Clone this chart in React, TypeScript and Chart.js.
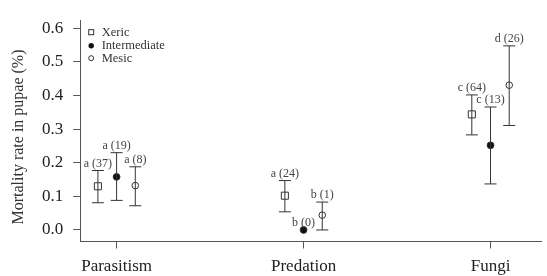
import React, { useEffect, useRef } from "react";
import { Chart, registerables } from "chart.js";

Chart.register(...registerables);

const categories = ["Parasitism", "Predation", "Fungi"];
const seriesNames = ["Xeric", "Intermediate", "Mesic"];

const xericMean = [0.130, 0.102, 0.344];
const xericLow = [0.081, 0.054, 0.283];
const xericHigh = [0.177, 0.147, 0.402];

const interMean = [0.158, 0.0, 0.252];
const interLow = [0.088, 0.0, 0.137];
const interHigh = [0.230, 0.0, 0.366];

const mesicMean = [0.132, 0.044, 0.431];
const mesicLow = [0.072, 0.0, 0.311];
const mesicHigh = [0.188, 0.083, 0.548];

const xericLetters = ["a", "a", "c"];
const interLetters = ["a", "b", "c"];
const mesicLetters = ["a", "b", "d"];

const xericCounts = [37, 24, 64];
const interCounts = [19, 0, 13];
const mesicCounts = [8, 1, 26];

const yTicks = [0, 0.1, 0.2, 0.3, 0.4, 0.5, 0.6];
const yTitle = "Mortality rate in pupae (%)";

const means = [xericMean, interMean, mesicMean];
const lows = [xericLow, interLow, mesicLow];
const highs = [xericHigh, interHigh, mesicHigh];
const letters = [xericLetters, interLetters, mesicLetters];
const counts = [xericCounts, interCounts, mesicCounts];

const OFFSETS = [-0.1, 0, 0.1];
const SERIF = "'Liberation Serif', 'Times New Roman', serif";
const INK = "#333";

const errorBarPlugin = {
  id: "errorBars",
  afterDatasetsDraw(chart: any) {
    const ctx = chart.ctx;
    const xs = chart.scales.x;
    const ys = chart.scales.y;
    ctx.save();
    ctx.strokeStyle = INK;
    ctx.lineWidth = 1;
    ctx.fillStyle = "#444";
    ctx.font = `12px ${SERIF}`;
    ctx.textAlign = "center";
    ctx.textBaseline = "middle";
    const cap = 6;
    for (let i = 0; i < means.length; i++) {
      for (let j = 0; j < categories.length; j++) {
        const x = xs.getPixelForValue(j + 1 + OFFSETS[i]);
        const yl = ys.getPixelForValue(lows[i][j]);
        const yh = ys.getPixelForValue(highs[i][j]);
        if (highs[i][j] > lows[i][j]) {
          ctx.beginPath();
          ctx.moveTo(x, yl);
          ctx.lineTo(x, yh);
          ctx.moveTo(x - cap, yl);
          ctx.lineTo(x + cap, yl);
          ctx.moveTo(x - cap, yh);
          ctx.lineTo(x + cap, yh);
          ctx.stroke();
        }
        ctx.fillText(`${letters[i][j]} (${counts[i][j]})`, x, yh - 7);
      }
    }
    ctx.restore();
  },
};

const legendAndTitlePlugin = {
  id: "legendTitle",
  afterDraw(chart: any) {
    const ctx = chart.ctx;
    const area = chart.chartArea;
    ctx.save();
    ctx.fillStyle = INK;
    ctx.font = `16px ${SERIF}`;
    ctx.textAlign = "center";
    ctx.textBaseline = "middle";
    ctx.translate(19, 137);
    ctx.rotate(-Math.PI / 2);
    ctx.fillText(yTitle, 0, 0);
    ctx.restore();

    ctx.save();
    const sx = area.left + 10.5;
    const tx = area.left + 21;
    const rows = [area.top + 12, area.top + 25.5, area.top + 38];
    ctx.strokeStyle = INK;
    ctx.fillStyle = "#111";
    ctx.lineWidth = 1;
    ctx.strokeRect(sx - 2.5, rows[0] - 2.5, 5, 5);
    ctx.beginPath();
    ctx.arc(sx, rows[1], 2.7, 0, Math.PI * 2);
    ctx.fill();
    ctx.beginPath();
    ctx.arc(sx, rows[2], 2.5, 0, Math.PI * 2);
    ctx.stroke();
    ctx.fillStyle = INK;
    ctx.font = `12.5px ${SERIF}`;
    ctx.textAlign = "left";
    ctx.textBaseline = "middle";
    seriesNames.forEach((n, k) => ctx.fillText(n, tx, rows[k] + 0.5));
    ctx.restore();
  },
};

export default function App() {
  const ref = useRef<HTMLCanvasElement | null>(null);

  useEffect(() => {
    if (!ref.current) return;
    const styles = [
      { pointStyle: "rect", radius: 5, bg: "rgba(0,0,0,0)" },
      { pointStyle: "circle", radius: 3.4, bg: "#111" },
      { pointStyle: "circle", radius: 3.3, bg: "rgba(0,0,0,0)" },
    ];
    const chart = new Chart(ref.current, {
      type: "scatter",
      data: {
        datasets: means.map((m, i) => ({
          label: seriesNames[i],
          data: m.map((v, j) => ({ x: j + 1 + OFFSETS[i], y: v })),
          pointStyle: styles[i].pointStyle as any,
          pointRadius: styles[i].radius,
          pointBackgroundColor: styles[i].bg,
          pointBorderColor: INK,
          pointBorderWidth: 1,
          showLine: false,
        })),
      },
      options: {
        responsive: false,
        animation: false,
        layout: { padding: { top: 11.6, right: 0, left: 0, bottom: 0 } },
        plugins: {
          legend: { display: false },
          tooltip: { enabled: false },
        },
        scales: {
          x: {
            type: "linear",
            min: 0.808,
            max: 3.27,
            afterBuildTicks: (s: any) => {
              s.ticks = categories.map((_, j) => ({ value: j + 1 }));
            },
            afterFit: (s: any) => {
              s.height = 34.5;
            },
            ticks: {
              callback: (v: any) => categories[Math.round(Number(v)) - 1] ?? "",
              font: { family: SERIF, size: 17 },
              color: "#222",
              padding: 8,
              maxRotation: 0,
              autoSkip: false,
            },
            grid: {
              drawOnChartArea: false,
              drawTicks: true,
              tickLength: 7,
              color: "#555",
            },
            border: { display: true, color: "#555", width: 1 },
          },
          y: {
            type: "linear",
            min: -0.0344,
            max: 0.6244,
            afterBuildTicks: (s: any) => {
              s.ticks = yTicks.map((v) => ({ value: v }));
            },
            afterFit: (s: any) => {
              s.width = 80.7;
            },
            ticks: {
              callback: (v: any) => Number(v).toFixed(1),
              font: { family: SERIF, size: 17 },
              color: "#222",
              padding: 10,
              autoSkip: false,
            },
            grid: {
              drawOnChartArea: false,
              drawTicks: true,
              tickLength: 7.5,
              color: "#555",
            },
            border: { display: true, color: "#555", width: 1 },
          },
        },
      },
      plugins: [errorBarPlugin, legendAndTitlePlugin],
    });
    return () => chart.destroy();
  }, []);

  return (
    <div style={{ position: "fixed", left: 0, top: 0, width: 547, height: 276, background: "#fff" }}>
      <canvas ref={ref} width={547} height={276} />
    </div>
  );
}
